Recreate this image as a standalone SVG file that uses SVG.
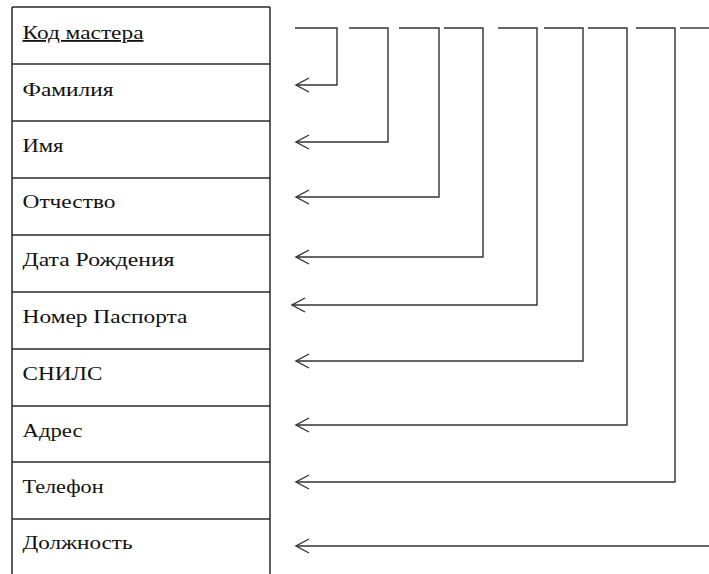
<svg xmlns="http://www.w3.org/2000/svg" width="709" height="574" viewBox="0 0 709 574">
  <style>
    .cell { fill: none; stroke: #2a2a2a; stroke-width: 1.5; }
    .lbl { font-family: "Liberation Serif", "Times New Roman", serif; font-size: 18px; fill: #111; }
    .link { fill: none; stroke: #333; stroke-width: 1.4; }
  </style>
  <defs>
    <marker id="open-arrow" markerWidth="16" markerHeight="16" refX="14" refY="8" orient="auto" markerUnits="userSpaceOnUse">
      <path d="M1,1 L14,8 L1,15" fill="none" stroke="#333" stroke-width="1.4"/>
    </marker>
  </defs>
  <rect width="709" height="574" fill="#fff"/>

  <!-- table of attributes -->
  <g id="table">
    <path class="cell" d="M12,7 H270 M12,7 V574 M270,7 V574"/>
  </g>
  <g id="kod-mastera">
    <text class="lbl" x="22.5" y="39" textLength="121" lengthAdjust="spacingAndGlyphs" text-decoration="underline">Код мастера</text>
  </g>
  <g id="familiya">
    <path class="cell" d="M12,64 H270"/>
    <text class="lbl" x="22.5" y="95.5" textLength="91" lengthAdjust="spacingAndGlyphs">Фамилия</text>
  </g>
  <g id="imya">
    <path class="cell" d="M12,121 H270"/>
    <text class="lbl" x="22.5" y="151.5" textLength="41" lengthAdjust="spacingAndGlyphs">Имя</text>
  </g>
  <g id="otchestvo">
    <path class="cell" d="M12,178 H270"/>
    <text class="lbl" x="22.5" y="208" textLength="93" lengthAdjust="spacingAndGlyphs">Отчество</text>
  </g>
  <g id="data-rozhdeniya">
    <path class="cell" d="M12,235 H270"/>
    <text class="lbl" x="22.5" y="266" textLength="152" lengthAdjust="spacingAndGlyphs">Дата Рождения</text>
  </g>
  <g id="nomer-pasporta">
    <path class="cell" d="M12,292 H270"/>
    <text class="lbl" x="22.5" y="322.5" textLength="165" lengthAdjust="spacingAndGlyphs">Номер Паспорта</text>
  </g>
  <g id="snils">
    <path class="cell" d="M12,349 H270"/>
    <text class="lbl" x="22.5" y="380" textLength="80" lengthAdjust="spacingAndGlyphs">СНИЛС</text>
  </g>
  <g id="adres">
    <path class="cell" d="M12,406 H270"/>
    <text class="lbl" x="22.5" y="436.5" textLength="60" lengthAdjust="spacingAndGlyphs">Адрес</text>
  </g>
  <g id="telefon">
    <path class="cell" d="M12,462 H270"/>
    <text class="lbl" x="22.5" y="493" textLength="81" lengthAdjust="spacingAndGlyphs">Телефон</text>
  </g>
  <g id="dolzhnost">
    <path class="cell" d="M12,519 H270"/>
    <text class="lbl" x="22.5" y="548.5" textLength="110" lengthAdjust="spacingAndGlyphs">Должность</text>
  </g>

  <!-- dependency connectors from the key -->
  <g id="connectors">
    <path class="link" marker-end="url(#open-arrow)" d="M295,28 H337 V85 H296"/>
    <path class="link" marker-end="url(#open-arrow)" d="M349,28 H388 V142 H296"/>
    <path class="link" marker-end="url(#open-arrow)" d="M399,28 H439 V197 H296"/>
    <path class="link" marker-end="url(#open-arrow)" d="M444,28 H483 V257 H296"/>
    <path class="link" marker-end="url(#open-arrow)" d="M498,28 H537 V305 H292"/>
    <path class="link" marker-end="url(#open-arrow)" d="M544,28 H583 V361 H296"/>
    <path class="link" marker-end="url(#open-arrow)" d="M588,28 H627 V425 H296"/>
    <path class="link" marker-end="url(#open-arrow)" d="M636,28 H675 V482 H296"/>
    <path class="link" d="M680,28 H709"/>
    <path class="link" marker-end="url(#open-arrow)" d="M709,546 H296"/>
  </g>
</svg>
